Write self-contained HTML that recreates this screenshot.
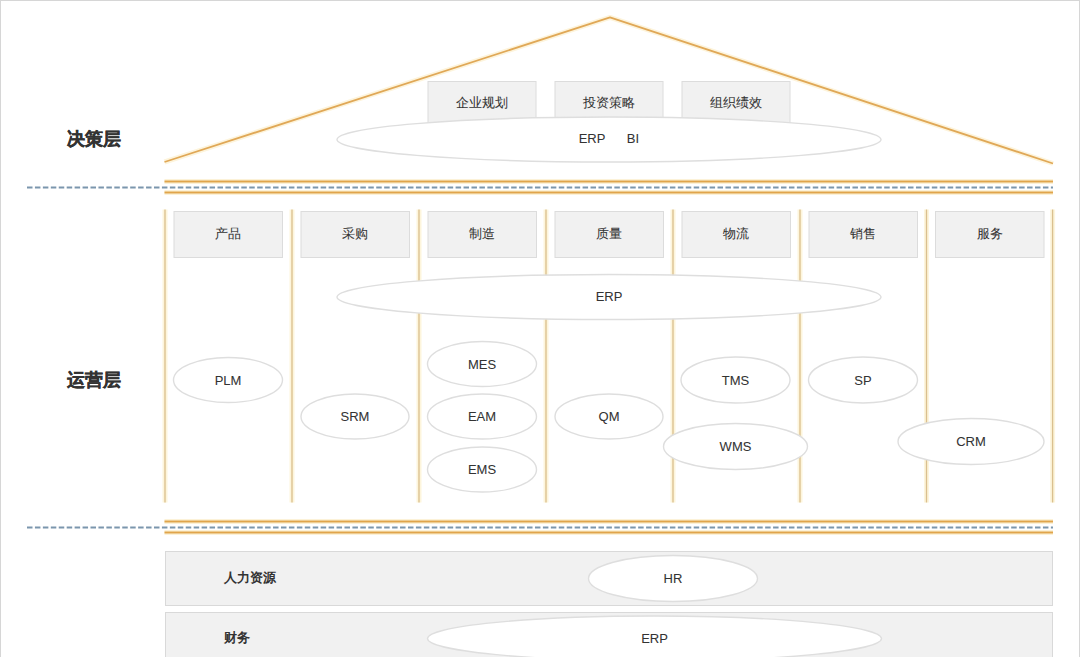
<!DOCTYPE html>
<html><head><meta charset="utf-8">
<style>
html,body{margin:0;padding:0;background:#fff;}
body{width:1080px;height:657px;overflow:hidden;position:relative;font-family:"Liberation Sans",sans-serif;}
svg{position:absolute;left:0;top:0;}
svg text{font-family:"Liberation Sans",sans-serif;fill:#333;}
.t{font-size:13px;text-anchor:middle;stroke:#333;stroke-width:0.06px;}
.b{font-weight:bold;}
</style></head><body>
<svg width="1080" height="657" viewBox="0 0 1080 657">
<!-- frame -->
<rect x="0.5" y="0.5" width="1079" height="700" fill="none" stroke="#d6d6d6" stroke-width="1"/>

<!-- roof -->
<polyline points="164.5,162 610,17.4 1053,163.5" fill="none" stroke="#fdf4dc" stroke-width="5" stroke-linejoin="round"/>
<polyline points="164.5,162 610,17.4 1053,163.5" fill="none" stroke="#e0a857" stroke-width="1.8" stroke-linejoin="round"/>

<!-- roof boxes -->
<g fill="#f1f1f1" stroke="#dcdcdc" stroke-width="1">
<rect x="428" y="81.5" width="108" height="45"/>
<rect x="555" y="81.5" width="108" height="45"/>
<rect x="682" y="81.5" width="108" height="45"/>
</g>
<g class="t">
<text class="t" x="482" y="106.7">企业规划</text>
<text class="t" x="609" y="106.7">投资策略</text>
<text class="t" x="736" y="106.7">组织绩效</text>
</g>
<ellipse cx="609" cy="139.5" rx="272" ry="22.5" fill="#fff" stroke="#dedede" stroke-width="1.4"/>
<text class="t" x="592" y="143.4">ERP</text>
<text class="t" x="633" y="143.4">BI</text>

<!-- separator 1 -->
<g stroke="#fcf2d8" stroke-width="5">
<line x1="164.5" y1="181.5" x2="1053" y2="181.5"/>
<line x1="164.5" y1="192.5" x2="1053" y2="192.5"/>
</g>
<g stroke="#e0a54c" stroke-width="1.8">
<line x1="164.5" y1="181.5" x2="1053" y2="181.5"/>
<line x1="164.5" y1="192.5" x2="1053" y2="192.5"/>
</g>
<line x1="27" y1="187.5" x2="1053" y2="187.5" stroke="#7b96ad" stroke-width="2" stroke-dasharray="5.5 2.437"/>

<!-- separator 2 -->
<g stroke="#fcf2d8" stroke-width="5">
<line x1="164.5" y1="521.5" x2="1053" y2="521.5"/>
<line x1="164.5" y1="532.5" x2="1053" y2="532.5"/>
</g>
<g stroke="#e0a54c" stroke-width="1.8">
<line x1="164.5" y1="521.5" x2="1053" y2="521.5"/>
<line x1="164.5" y1="532.5" x2="1053" y2="532.5"/>
</g>
<line x1="27" y1="527.5" x2="1053" y2="527.5" stroke="#7b96ad" stroke-width="2" stroke-dasharray="5.5 2.437"/>

<!-- column halos -->
<g stroke="#fdf5dc" stroke-width="5">
<line x1="165" y1="209.5" x2="165" y2="502.5"/>
<line x1="292" y1="209.5" x2="292" y2="502.5"/>
<line x1="419" y1="209.5" x2="419" y2="502.5"/>
<line x1="546" y1="209.5" x2="546" y2="502.5"/>
<line x1="673" y1="209.5" x2="673" y2="502.5"/>
<line x1="800" y1="209.5" x2="800" y2="502.5"/>
<line x1="926.5" y1="209.5" x2="926.5" y2="502.5"/>
<line x1="1052.6" y1="209.5" x2="1052.6" y2="502.5"/>
</g>
<!-- columns -->
<g stroke="#dac08e" stroke-width="1.35">
<line x1="165" y1="209.5" x2="165" y2="502.5"/>
<line x1="292" y1="209.5" x2="292" y2="502.5"/>
<line x1="419" y1="209.5" x2="419" y2="502.5"/>
<line x1="546" y1="209.5" x2="546" y2="502.5"/>
<line x1="673" y1="209.5" x2="673" y2="502.5"/>
<line x1="800" y1="209.5" x2="800" y2="502.5"/>
<line x1="926.5" y1="209.5" x2="926.5" y2="502.5"/>
<line x1="1052.6" y1="209.5" x2="1052.6" y2="502.5"/>
</g>

<!-- header boxes -->
<g fill="#f1f1f1" stroke="#dcdcdc" stroke-width="1">
<rect x="174" y="211.5" width="108.5" height="46"/>
<rect x="301" y="211.5" width="108.5" height="46"/>
<rect x="428" y="211.5" width="108.5" height="46"/>
<rect x="555" y="211.5" width="108.5" height="46"/>
<rect x="682" y="211.5" width="108.5" height="46"/>
<rect x="809" y="211.5" width="108.5" height="46"/>
<rect x="935.5" y="211.5" width="108.5" height="46"/>
</g>
<text class="t" x="228" y="238">产品</text>
<text class="t" x="355" y="238">采购</text>
<text class="t" x="482" y="238">制造</text>
<text class="t" x="609" y="238">质量</text>
<text class="t" x="736" y="238">物流</text>
<text class="t" x="863" y="238">销售</text>
<text class="t" x="990" y="238">服务</text>

<!-- ellipses -->
<g fill="#fff" stroke="#dedede" stroke-width="1.4">
<ellipse cx="609" cy="297" rx="272" ry="22.5"/>
<ellipse cx="228" cy="380" rx="54.5" ry="22.5"/>
<ellipse cx="355" cy="416.5" rx="54" ry="22.5"/>
<ellipse cx="482" cy="364" rx="54.5" ry="22.5"/>
<ellipse cx="482" cy="416.5" rx="54.5" ry="22.5"/>
<ellipse cx="482" cy="469.5" rx="54.5" ry="22.5"/>
<ellipse cx="609" cy="416.5" rx="54" ry="22.5"/>
<ellipse cx="735.5" cy="380" rx="54.5" ry="23"/>
<ellipse cx="735.5" cy="446.5" rx="72" ry="23"/>
<ellipse cx="863" cy="380" rx="54.5" ry="23"/>
<ellipse cx="971" cy="441.5" rx="73" ry="23"/>
</g>
<text class="t" x="609" y="300.8">ERP</text>
<text class="t" x="228" y="384.5">PLM</text>
<text class="t" x="355" y="421">SRM</text>
<text class="t" x="482" y="368.5">MES</text>
<text class="t" x="482" y="421">EAM</text>
<text class="t" x="482" y="474">EMS</text>
<text class="t" x="609" y="421">QM</text>
<text class="t" x="735.5" y="384.5">TMS</text>
<text class="t" x="735.5" y="451">WMS</text>
<text class="t" x="863" y="384.5">SP</text>
<text class="t" x="971" y="446">CRM</text>

<!-- bottom panels -->
<g fill="#f1f1f1" stroke="#d9d9d9" stroke-width="1">
<rect x="165.5" y="551.5" width="887" height="54"/>
<rect x="165.5" y="612.5" width="887" height="60"/>
</g>
<ellipse cx="673" cy="578.5" rx="84.5" ry="23" fill="#fff" stroke="#dedede" stroke-width="1.4"/>
<ellipse cx="654.5" cy="638.5" rx="227" ry="22.5" fill="#fff" stroke="#dedede" stroke-width="1.4"/>
<text class="t" x="673" y="582.6">HR</text>
<text class="t" x="654.5" y="642.8">ERP</text>
<text class="b" x="224" y="581.6" font-size="13">人力资源</text>
<text class="b" x="224" y="642.3" font-size="13">财务</text>

<!-- layer labels -->
<text class="b" x="67" y="144.6" font-size="17.7" stroke="#333" stroke-width="0.35">决策层</text>
<text class="b" x="67" y="385.6" font-size="17.7" stroke="#333" stroke-width="0.35">运营层</text>
</svg>
</body></html>
